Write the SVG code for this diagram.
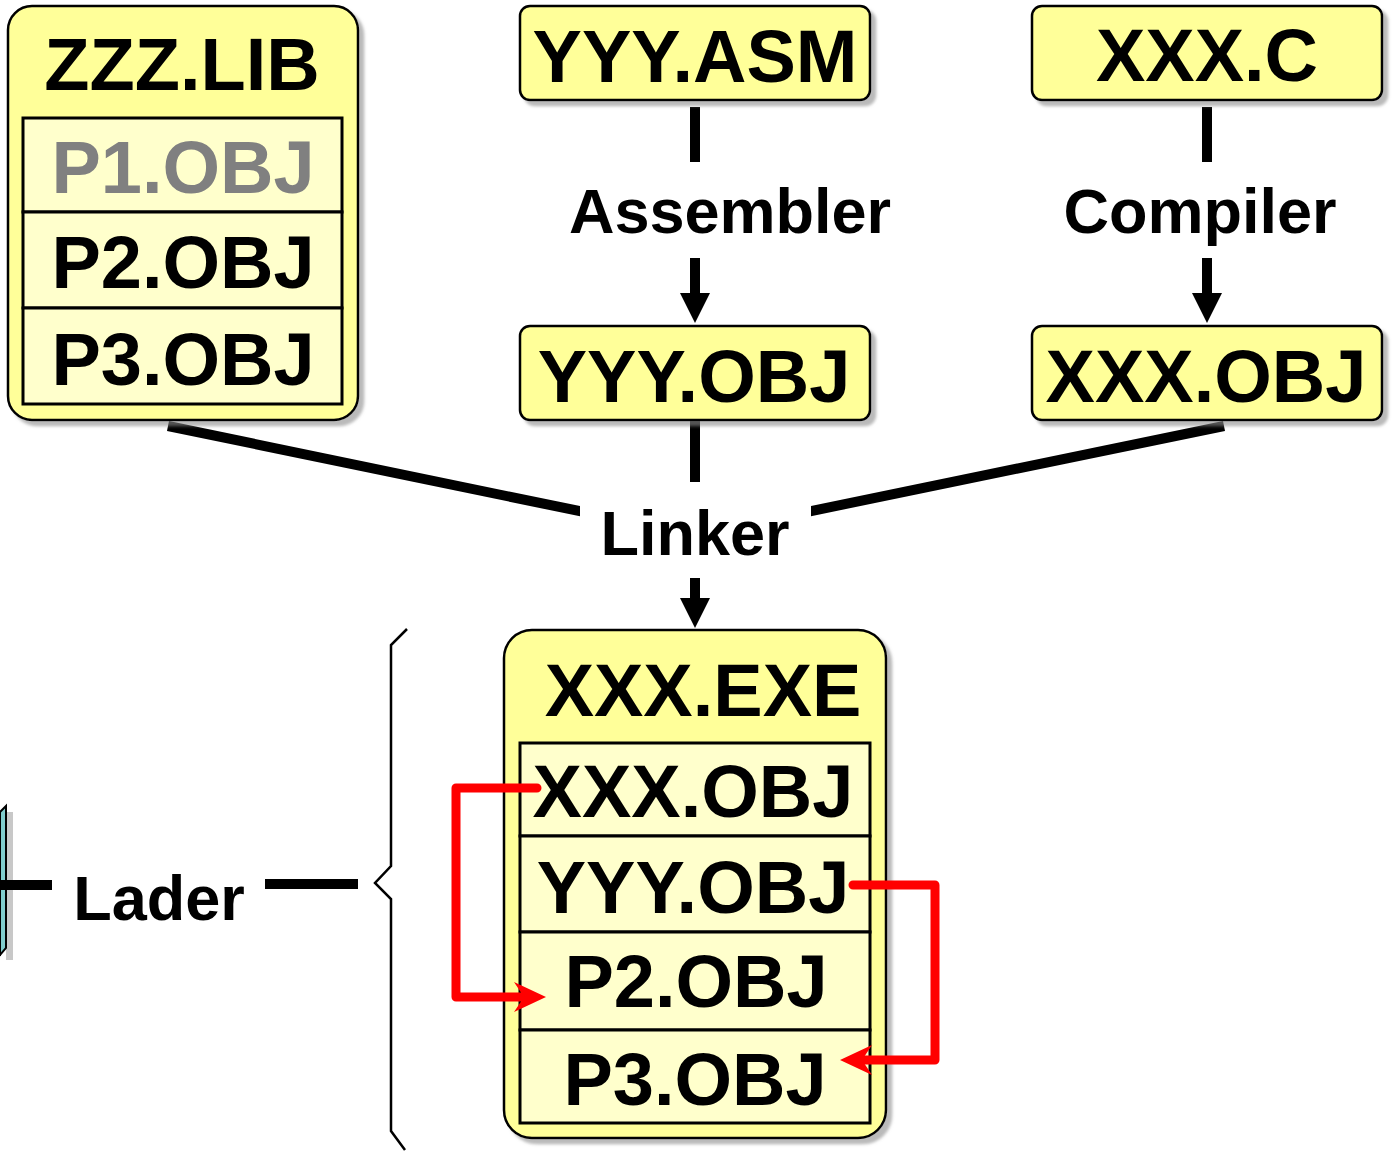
<svg xmlns="http://www.w3.org/2000/svg" width="1393" height="1154" viewBox="0 0 1393 1154">
  <defs>
    <style>
      .box { fill: #ffff99; stroke: #000; stroke-width: 2.5; filter: url(#shadow); }
      .row { fill: #ffffcc; stroke: #000; stroke-width: 3; }
      .big { font-family: "Liberation Sans", Arial, sans-serif; font-weight: bold; font-size: 74px; text-anchor: middle; fill: #000; }
      .lbl { font-family: "Liberation Sans", Arial, sans-serif; font-weight: bold; font-size: 63px; text-anchor: middle; fill: #000; }
      .dim { fill: #808080; }
      .flow { stroke: #000; stroke-width: 10; fill: none; }
      .red { stroke: #ff0000; stroke-width: 9; fill: none; stroke-linejoin: round; stroke-linecap: round; }
    </style>
    <filter id="shadow" x="-10%" y="-10%" width="130%" height="130%">
      <feDropShadow dx="5" dy="5" stdDeviation="1.5" flood-color="#8c8c8c" flood-opacity="0.6"/>
    </filter>
    <marker id="head" markerUnits="userSpaceOnUse" markerWidth="32" markerHeight="32" viewBox="0 -16 32 32" refX="0" refY="0" orient="auto">
      <path d="M0,-15 L30,0 L0,15 Z" fill="#000"/>
    </marker>
    <marker id="redhead" markerUnits="userSpaceOnUse" markerWidth="40" markerHeight="36" viewBox="-12 -18 40 36" refX="0" refY="0" orient="auto">
      <path d="M22,0 L-10,-15 L0,0 L-10,15 Z" fill="#ff0000"/>
    </marker>
    <clipPath id="leftOfLinker"><rect x="0" y="400" width="580" height="200"/></clipPath>
    <clipPath id="rightOfLinker"><rect x="811" y="400" width="600" height="200"/></clipPath>
  </defs>

  <rect width="1393" height="1154" fill="#fff"/>

  <!-- connectors -->
  <g id="connectors">
    <line class="flow" x1="168" y1="426" x2="695" y2="535" clip-path="url(#leftOfLinker)"/>
    <line class="flow" x1="1224" y1="426" x2="695" y2="535" clip-path="url(#rightOfLinker)"/>
    <line class="flow" x1="695" y1="107" x2="695" y2="162"/>
    <line class="flow" x1="695" y1="258" x2="695" y2="293" marker-end="url(#head)"/>
    <line class="flow" x1="1207" y1="107" x2="1207" y2="162"/>
    <line class="flow" x1="1207" y1="258" x2="1207" y2="293" marker-end="url(#head)"/>
    <line class="flow" x1="695" y1="420" x2="695" y2="482"/>
    <line class="flow" x1="695" y1="578" x2="695" y2="598" marker-end="url(#head)"/>
    <line class="flow" x1="265" y1="884" x2="358" y2="884"/>
    <!-- curly brace grouping the executable -->
    <path d="M407,629 L391,645 L391,866 L375,883 L391,899 L391,1131 L405,1150" fill="none" stroke="#000" stroke-width="2.5"/>
  </g>

  <!-- labels on the flow -->
  <g id="labels">
    <text class="lbl" x="730" y="233">Assembler</text>
    <text class="lbl" x="1200" y="233">Compiler</text>
    <text class="lbl" x="695" y="555">Linker</text>
    <text class="lbl" x="159" y="920">Lader</text>
  </g>

  <!-- library -->
  <g id="zzz-lib">
    <rect class="box" x="8" y="6" width="350" height="414" rx="24"/>
    <rect class="row" x="23" y="118" width="319" height="94"/>
    <rect class="row" x="23" y="212" width="319" height="96"/>
    <rect class="row" x="23" y="308" width="319" height="96"/>
    <text class="big" x="182" y="90">ZZZ.LIB</text>
    <text class="big dim" x="183" y="193">P1.OBJ</text>
    <text class="big" x="183" y="288">P2.OBJ</text>
    <text class="big" x="183" y="385">P3.OBJ</text>
  </g>

  <g id="yyy-asm">
    <rect class="box" x="520" y="6" width="350" height="94" rx="10"/>
    <text class="big" x="695" y="82">YYY.ASM</text>
  </g>

  <g id="yyy-obj">
    <rect class="box" x="520" y="326" width="350" height="94" rx="10"/>
    <text class="big" x="694" y="402">YYY.OBJ</text>
  </g>

  <g id="xxx-c">
    <rect class="box" x="1032" y="6" width="350" height="94" rx="10"/>
    <text class="big" x="1207" y="81">XXX.C</text>
  </g>

  <g id="xxx-obj">
    <rect class="box" x="1032" y="326" width="350" height="94" rx="10"/>
    <text class="big" x="1206" y="402">XXX.OBJ</text>
  </g>

  <!-- executable image -->
  <g id="xxx-exe">
    <rect class="box" x="504" y="630" width="382" height="508" rx="28"/>
    <rect class="row" x="520" y="743" width="350" height="93"/>
    <rect class="row" x="520" y="836" width="350" height="96"/>
    <rect class="row" x="520" y="932" width="350" height="98"/>
    <rect class="row" x="520" y="1030" width="350" height="93"/>
    <text class="big" x="703" y="716">XXX.EXE</text>
    <text class="big" x="693" y="817">XXX.OBJ</text>
    <text class="big" x="693" y="913">YYY.OBJ</text>
    <text class="big" x="696" y="1007">P2.OBJ</text>
    <text class="big" x="695" y="1105">P3.OBJ</text>
  </g>

  <!-- memory block at the left edge -->
  <g id="memory">
    <rect x="6" y="812" width="7" height="148" fill="#c8c8c8"/>
    <rect x="-100" y="812" width="100" height="143" fill="#80cccc" stroke="#000" stroke-width="2"/>
    <polygon points="0,812 6,806 6,948 0,955" fill="#80cccc" stroke="#000" stroke-width="2"/>
    <line class="flow" x1="0" y1="885" x2="52" y2="885"/>
  </g>

  <!-- references between modules -->
  <g id="references">
    <path class="red" d="M537,788 L456,788 L456,997 L524,997" marker-end="url(#redhead)"/>
    <path class="red" d="M853,885 L935,885 L935,1060 L862,1060" marker-end="url(#redhead)"/>
  </g>
</svg>
